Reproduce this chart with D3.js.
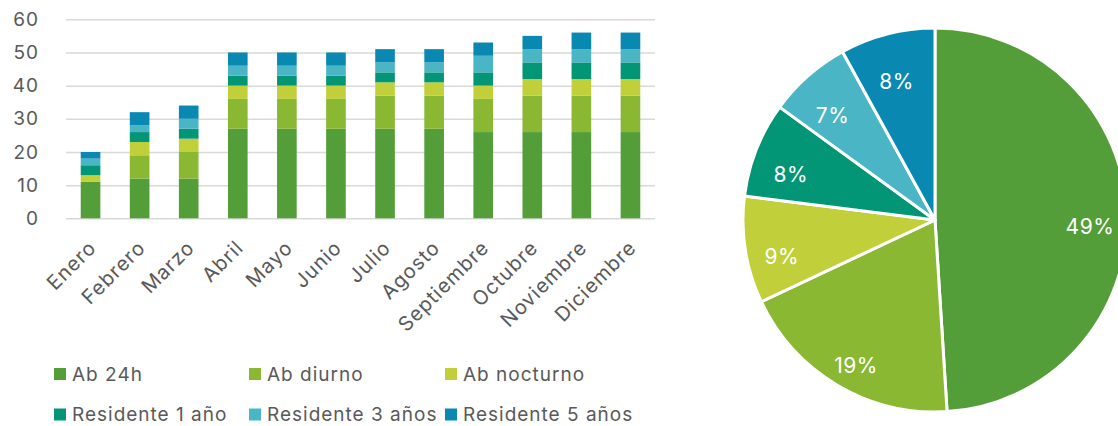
<!DOCTYPE html>
<html>
<head>
<meta charset="utf-8">
<script src="https://cdn.jsdelivr.net/npm/d3@7"></script>
<style>
  body { margin: 0; background: #fff; }
  svg text { font-family: Inter, "Open Sans", sans-serif; }
</style>
</head>
<body>
<script>
  var width = 1118, height = 426;

  // datos
  var months = ["Enero", "Febrero", "Marzo", "Abril", "Mayo", "Junio", "Julio",
                "Agosto", "Septiembre", "Octubre", "Noviembre", "Diciembre"];
  var seriesNames = ["Ab 24h", "Ab diurno", "Ab nocturno",
                     "Residente 1 año", "Residente 3 años", "Residente 5 años"];
  var ab24h      = [11, 12, 12, 27, 27, 27, 27, 27, 26, 26, 26, 26];
  var abDiurno   = [0, 7, 8, 9, 9, 9, 10, 10, 10, 11, 11, 11];
  var abNocturno = [2, 4, 4, 4, 4, 4, 4, 4, 4, 5, 5, 5];
  var res1       = [3, 3, 3, 3, 3, 3, 3, 3, 4, 5, 5, 5];
  var res3       = [2, 2, 3, 3, 3, 3, 3, 3, 5, 4, 4, 4];
  var res5       = [2, 4, 4, 4, 4, 4, 4, 4, 4, 4, 5, 5];
  var yTicks = [0, 10, 20, 30, 40, 50, 60];
  // reparto anual (%) de la tarta
  var pieShares = [49, 19, 9, 8, 7, 8];
  var colors = ["#549E39", "#8AB833", "#C0CF3A", "#029676", "#4AB5C4", "#0989B1"];

  var series = [ab24h, abDiurno, abNocturno, res1, res3, res5];

  var rows = months.map(function(m, i) {
    var r = { month: m };
    seriesNames.forEach(function(s, j) { r[s] = series[j][i]; });
    return r;
  });

  var svg = d3.select("body").append("svg")
    .attr("width", width)
    .attr("height", height);

  var textColor = "#595959";

  // ---- barras apiladas ----
  var x = d3.scaleBand().domain(months).range([66, 655])
    .paddingInner(0.6).paddingOuter(0.3);
  var y = d3.scaleLinear().domain([0, 60]).range([218.3, 19.3]);

  var yAxis = svg.append("g")
    .attr("transform", "translate(66,0)")
    .call(d3.axisLeft(y).tickValues(yTicks).tickSize(-589).tickPadding(27));
  yAxis.select(".domain").remove();
  yAxis.selectAll("line").attr("stroke", "#d9d9d9").attr("stroke-width", 1.5);
  yAxis.selectAll("text")
    .attr("fill", textColor)
    .style("font-size", "19px")
    .style("letter-spacing", "1px");

  var stack = d3.stack().keys(seriesNames);
  var layers = stack(rows);

  svg.append("g").selectAll("g")
    .data(layers)
    .enter().append("g")
    .attr("fill", function(d, i) { return colors[i]; })
    .selectAll("rect")
    .data(function(d) { return d; })
    .enter().append("rect")
    .attr("x", function(d) { return x(d.data.month); })
    .attr("y", function(d) { return y(d[1]); })
    .attr("width", x.bandwidth())
    .attr("height", function(d) { return y(d[0]) - y(d[1]); });

  var xAxis = svg.append("g")
    .attr("transform", "translate(0,230)")
    .call(d3.axisBottom(x).tickSize(0).tickPadding(0));
  xAxis.select(".domain").remove();
  xAxis.selectAll("text")
    .attr("fill", textColor)
    .style("font-size", "20px")
    .style("letter-spacing", "1px")
    .attr("text-anchor", "end")
    .attr("dy", "0.35em")
    .attr("transform", "translate(2,14) rotate(-45)");

  // ---- leyenda ----
  var legendX = [54, 249, 445];
  var legendY = [374, 414.5];
  var legend = svg.append("g").selectAll("g")
    .data(seriesNames)
    .enter().append("g")
    .attr("transform", function(d, i) {
      return "translate(" + legendX[i % 3] + "," + legendY[Math.floor(i / 3)] + ")";
    });
  legend.append("rect")
    .attr("x", 0).attr("y", -6)
    .attr("width", 12).attr("height", 12)
    .attr("fill", function(d, i) { return colors[i]; });
  legend.append("text")
    .attr("x", 18).attr("dy", "0.35em")
    .attr("fill", textColor)
    .style("font-size", "19px")
    .style("letter-spacing", "1px")
    .text(function(d) { return d; });

  // ---- tarta ----
  var R = 192;
  var pie = d3.pie().sort(null)(pieShares);
  var arc = d3.arc().innerRadius(0).outerRadius(R);
  var labelArc = d3.arc().innerRadius(155).outerRadius(155);

  var pg = svg.append("g").attr("transform", "translate(935,220)");
  pg.selectAll("path")
    .data(pie)
    .enter().append("path")
    .attr("d", arc)
    .attr("fill", function(d, i) { return colors[i]; })
    .attr("stroke", "#fff")
    .attr("stroke-width", 3)
    .attr("stroke-linejoin", "round");

  pg.selectAll("text")
    .data(pie)
    .enter().append("text")
    .attr("transform", function(d) {
      var c = labelArc.centroid(d);
      return "translate(" + c[0] + "," + (c[1] + 12) + ")";
    })
    .attr("text-anchor", "middle")
    .attr("dy", "0.35em")
    .attr("fill", "#fff")
    .style("font-size", "21px")
    .style("letter-spacing", "0.5px")
    .text(function(d) { return d.value + "%"; });
</script>
</body>
</html>
